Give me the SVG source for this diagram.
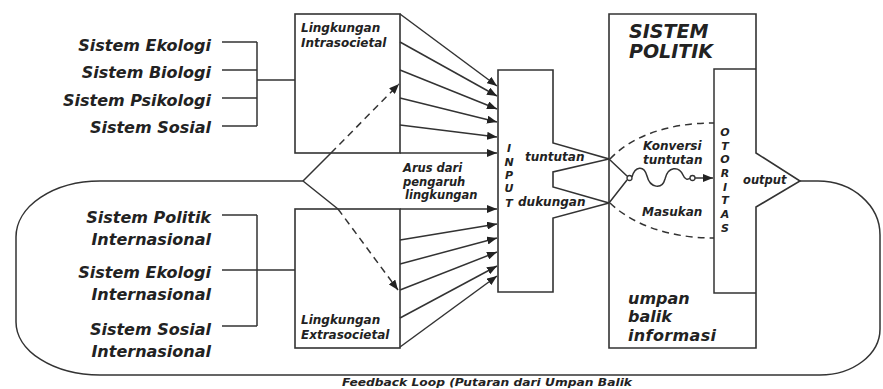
<svg xmlns="http://www.w3.org/2000/svg" width="883" height="389" viewBox="0 0 883 389">
<defs>
<marker id="ah" markerWidth="10" markerHeight="8" refX="10" refY="4" orient="auto" markerUnits="userSpaceOnUse"><path d="M0,0 L10,4 L0,8 Z" fill="#222"/></marker>
<style>
.t{font-family:"DejaVu Sans","Liberation Sans",sans-serif;font-weight:bold;font-style:oblique;fill:#222}
.big{font-size:16px}
.lab{font-size:12px}
.box{fill:#fff;stroke:#333;stroke-width:1.6}
.ln{fill:none;stroke:#333;stroke-width:1.5}
.dash{fill:none;stroke:#333;stroke-width:1.5;stroke-dasharray:7,5}
</style>
</defs>
<rect width="883" height="389" fill="#fff"/>

<g id="left-upper">
  <text class="t big" x="211" y="51" text-anchor="end">Sistem Ekologi</text>
  <text class="t big" x="211" y="78" text-anchor="end">Sistem Biologi</text>
  <text class="t big" x="211" y="106" text-anchor="end">Sistem Psikologi</text>
  <text class="t big" x="211" y="133" text-anchor="end">Sistem Sosial</text>
</g>
<g id="left-lower">
  <text class="t big" x="211" y="223" text-anchor="end">Sistem Politik</text>
  <text class="t big" x="211" y="245" text-anchor="end">Internasional</text>
  <text class="t big" x="211" y="278" text-anchor="end">Sistem Ekologi</text>
  <text class="t big" x="211" y="300" text-anchor="end">Internasional</text>
  <text class="t big" x="211" y="335" text-anchor="end">Sistem Sosial</text>
  <text class="t big" x="211" y="357" text-anchor="end">Internasional</text>
</g>

<g id="intrasocietal">
  <rect class="box" x="295" y="14" width="105" height="139"/>
  <text class="t lab" x="301" y="32">Lingkungan</text>
  <text class="t lab" x="301" y="47">Intrasocietal</text>
</g>
<g id="extrasocietal">
  <rect class="box" x="295" y="209" width="105" height="139"/>
  <text class="t lab" x="301" y="324">Lingkungan</text>
  <text class="t lab" x="301" y="339">Extrasocietal</text>
</g>

<g id="arus">
  <text class="t" font-size="11.5" x="403" y="172">Arus dari</text>
  <text class="t" font-size="11.5" x="403" y="186">pengaruh</text>
  <text class="t" font-size="11.5" x="405" y="199">lingkungan</text>
</g>

<g id="input">
  <path class="box" d="M498,70 H553 V143 L609,159 L553,172 V187 L609,203 L553,218 V292 H498 Z"/>
  <g class="t" font-size="11" text-anchor="middle">
    <text x="509" y="152">I</text>
    <text x="509" y="166">N</text>
    <text x="509" y="179">P</text>
    <text x="509" y="192">U</text>
    <text x="509" y="207">T</text>
  </g>
  <text class="t lab" x="525" y="161">tuntutan</text>
  <text class="t lab" x="518" y="206">dukungan</text>
</g>

<g id="sistem-politik">
  <path class="box" d="M609,14 H756 V153 L800,181 L756,207 V348 H609 Z"/>
  <path class="ln" stroke-width="1.6" d="M756,69 H714 V293 H756"/>
  <text class="t" font-size="19" x="629" y="38">SISTEM</text>
  <text class="t" font-size="19" x="629" y="58">POLITIK</text>
  <text class="t" font-size="16" x="628" y="304">umpan</text>
  <text class="t" font-size="16" x="628" y="322">balik</text>
  <text class="t" font-size="16" x="628" y="341" textLength="88">informasi</text>
</g>

<g id="otoritas">
  <g class="t" font-size="11" text-anchor="middle">
    <text x="725" y="136">O</text>
    <text x="725" y="150">T</text>
    <text x="725" y="163">O</text>
    <text x="725" y="177">R</text>
    <text x="725" y="191">I</text>
    <text x="725" y="204">T</text>
    <text x="725" y="218">A</text>
    <text x="725" y="232">S</text>
  </g>
  <text class="t" font-size="11.5" x="743" y="184">output</text>
</g>

<g id="konversi">
  <text class="t lab" x="643" y="150">Konversi</text>
  <text class="t lab" x="643" y="164">tuntutan</text>
  <text class="t lab" x="642" y="216">Masukan</text>
</g>

<g id="connectors">
  <!-- feedback loop -->
  <path class="ln" stroke-width="1.8" d="M303,181 H100 A84,56 0 0 0 16,237 V322 A84,53 0 0 0 100,375 H820 A60,46 0 0 0 880,329 V235 A62,54 0 0 0 818,181 H800"/>
  <!-- upper bracket -->
  <path class="ln" d="M222,42 H257 M222,70 H257 M222,98 H257 M222,126 H257 M257,42 V126 M257,80 H295"/>
  <!-- lower bracket -->
  <path class="ln" d="M222,215 H257 M222,270 H257 M222,326 H257 M257,215 V326 M257,270 H295"/>
  <!-- fork -->
  <path class="ln" d="M303,181 L331,153 M303,181 L338,209"/>
  <path class="dash" d="M331,153 L399,84" marker-end="url(#ah)"/>
  <path class="dash" d="M338,209 L398,290" marker-end="url(#ah)"/>
  <!-- upper arrows -->
  <path class="ln" d="M400,14 L497,86" marker-end="url(#ah)"/>
  <path class="ln" d="M400,42 L497,96" marker-end="url(#ah)"/>
  <path class="ln" d="M400,70 L497,109" marker-end="url(#ah)"/>
  <path class="ln" d="M400,98 L497,122" marker-end="url(#ah)"/>
  <path class="ln" d="M400,125 L497,137" marker-end="url(#ah)"/>
  <path class="ln" d="M400,153 L497,153" marker-end="url(#ah)"/>
  <!-- lower arrows -->
  <path class="ln" d="M400,209 L497,209" marker-end="url(#ah)"/>
  <path class="ln" d="M400,240 L497,224" marker-end="url(#ah)"/>
  <path class="ln" d="M400,264 L497,238" marker-end="url(#ah)"/>
  <path class="ln" d="M400,290 L497,252" marker-end="url(#ah)"/>
  <path class="ln" d="M400,318 L497,266" marker-end="url(#ah)"/>
  <path class="ln" d="M400,347 L497,276" marker-end="url(#ah)"/>
  <!-- conversion -->
  <path class="dash" d="M610,159 C632,136 668,123 714,123"/>
  <path class="dash" d="M610,203 C632,224 668,238 714,238"/>
  <path class="ln" d="M609,159 L627,176 M609,203 L627,180"/>
  <circle cx="629.5" cy="178" r="2.5" fill="#fff" stroke="#333" stroke-width="1.3"/>
  <path class="ln" d="M632,177 C635,166 644,165 647,176 C650,188 662,190 665,179 C668,166 679,166 683,175 C685,180 688,180 690,178"/>
  <circle cx="692.5" cy="178" r="2.5" fill="#fff" stroke="#333" stroke-width="1.3"/>
  <path class="ln" d="M695,178 L713,178" marker-end="url(#ah)"/>
</g>

<g id="caption">
  <text class="t" font-size="10" x="342" y="386" textLength="290" lengthAdjust="spacingAndGlyphs">Feedback Loop (Putaran dari Umpan Balik</text>
</g>
</svg>
